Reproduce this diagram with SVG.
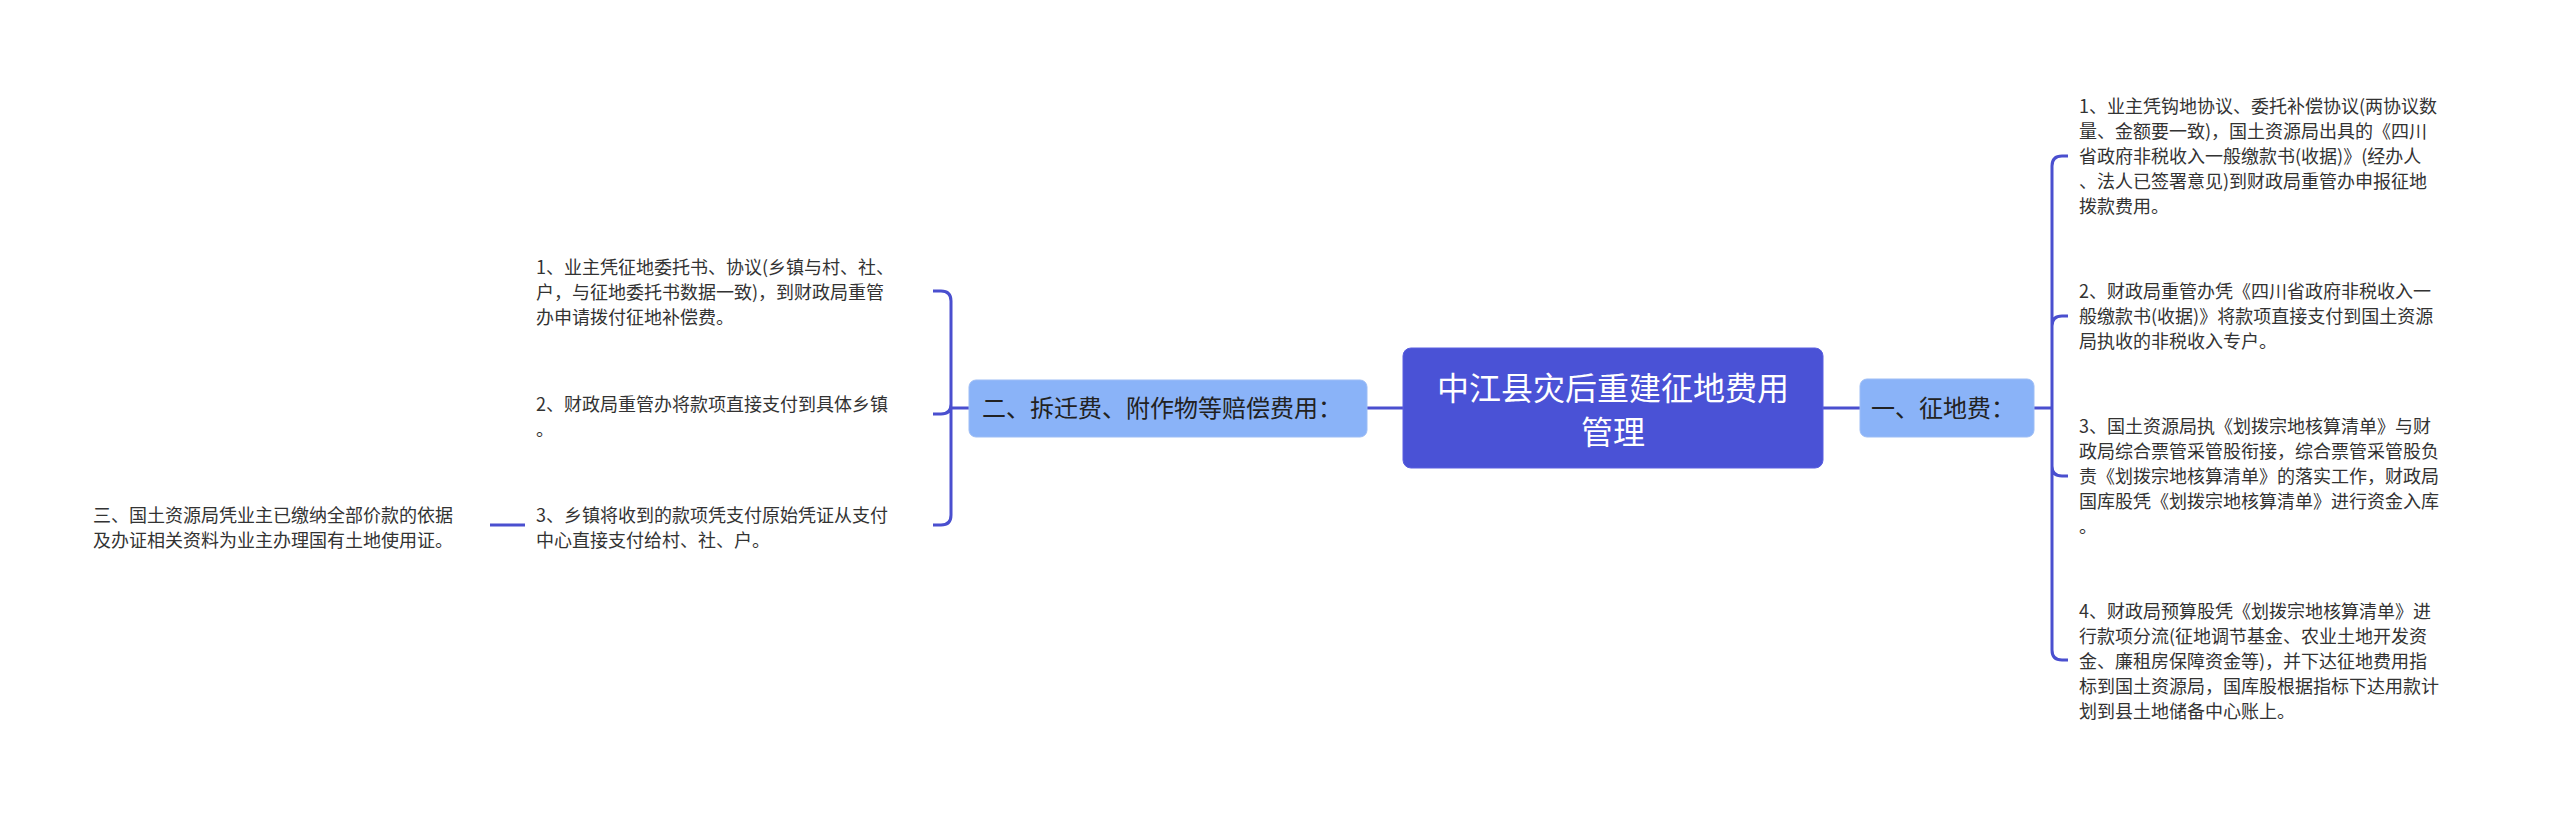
<svg xmlns="http://www.w3.org/2000/svg" width="2560" height="817" viewBox="0 0 2560 817">
<style>
.t{font-family:"Noto Sans CJK SC","Liberation Sans",sans-serif;font-size:18px;fill:#333}
.c{fill:none;stroke:#4a4fcf;stroke-width:3}
.sub{fill:#8ab3f8;stroke:#9dbdf5;stroke-width:1}
.st{font-family:"Noto Sans CJK SC","Liberation Sans",sans-serif;font-size:24px;fill:#222}
</style>
<rect width="2560" height="817" fill="#fff"/>
<g id="connectors">
<path class="c" d="M1823,408 H1860 M2034,408 H2052"/>
<path class="c" d="M2068,156 H2062 Q2052,156 2052,166 V650 Q2052,660 2062,660 H2068 M2052,326 Q2052,316 2062,316 H2068 M2052,466 Q2052,476 2062,476 H2068"/>
<path class="c" d="M1403,408 H1367 M969,408 H951"/>
<path class="c" d="M933,291 H941 Q951,291 951,301 V515 Q951,525 941,525 H933 M951,404 Q951,414 941,414 H933"/>
<path class="c" d="M490,525 H525"/>
</g>
<g id="root">
<rect x="1403" y="348" width="420" height="120" rx="8" fill="#4a52d6" stroke="#5a5fe0"/>
<text x="1613" y="400" text-anchor="middle" font-family="Noto Sans CJK SC,sans-serif" font-size="32" fill="#fff">中江县灾后重建征地费用</text>
<text x="1613" y="444" text-anchor="middle" font-family="Noto Sans CJK SC,sans-serif" font-size="32" fill="#fff">管理</text>
</g>
<g id="n1">
<rect class="sub" x="1860" y="379" width="174" height="58" rx="7"/>
<text class="st" x="1871" y="417">一、征地费：</text>
</g>
<g id="n1a"><text class="t" x="2079">
<tspan x="2079" y="113">1、业主凭钩地协议、委托补偿协议(两协议数</tspan>
<tspan x="2079" y="138">量、金额要一致)，国土资源局出具的《四川</tspan>
<tspan x="2079" y="163">省政府非税收入一般缴款书(收据)》(经办人</tspan>
<tspan x="2079" y="188">、法人已签署意见)到财政局重管办申报征地</tspan>
<tspan x="2079" y="213">拨款费用。</tspan></text></g>
<g id="n1b"><text class="t">
<tspan x="2079" y="298">2、财政局重管办凭《四川省政府非税收入一</tspan>
<tspan x="2079" y="323">般缴款书(收据)》将款项直接支付到国土资源</tspan>
<tspan x="2079" y="348">局执收的非税收入专户。</tspan></text></g>
<g id="n1c"><text class="t">
<tspan x="2079" y="433">3、国土资源局执《划拨宗地核算清单》与财</tspan>
<tspan x="2079" y="458">政局综合票管采管股衔接，综合票管采管股负</tspan>
<tspan x="2079" y="483">责《划拨宗地核算清单》的落实工作，财政局</tspan>
<tspan x="2079" y="508">国库股凭《划拨宗地核算清单》进行资金入库</tspan>
<tspan x="2079" y="533">。</tspan></text></g>
<g id="n1d"><text class="t">
<tspan x="2079" y="618">4、财政局预算股凭《划拨宗地核算清单》进</tspan>
<tspan x="2079" y="643">行款项分流(征地调节基金、农业土地开发资</tspan>
<tspan x="2079" y="668">金、廉租房保障资金等)，并下达征地费用指</tspan>
<tspan x="2079" y="693">标到国土资源局，国库股根据指标下达用款计</tspan>
<tspan x="2079" y="718">划到县土地储备中心账上。</tspan></text></g>
<g id="n2">
<rect class="sub" x="969" y="380" width="398" height="57" rx="7"/>
<text class="st" x="982" y="417">二、拆迁费、附作物等赔偿费用：</text>
</g>
<g id="n2a"><text class="t">
<tspan x="536" y="274">1、业主凭征地委托书、协议(乡镇与村、社、</tspan>
<tspan x="536" y="299">户，与征地委托书数据一致)，到财政局重管</tspan>
<tspan x="536" y="324">办申请拨付征地补偿费。</tspan></text></g>
<g id="n2b"><text class="t">
<tspan x="536" y="411">2、财政局重管办将款项直接支付到具体乡镇</tspan>
<tspan x="536" y="436">。</tspan></text></g>
<g id="n2c"><text class="t">
<tspan x="536" y="522">3、乡镇将收到的款项凭支付原始凭证从支付</tspan>
<tspan x="536" y="547">中心直接支付给村、社、户。</tspan></text></g>
<g id="n3"><text class="t">
<tspan x="93" y="522">三、国土资源局凭业主已缴纳全部价款的依据</tspan>
<tspan x="93" y="547">及办证相关资料为业主办理国有土地使用证。</tspan></text></g>
</svg>
